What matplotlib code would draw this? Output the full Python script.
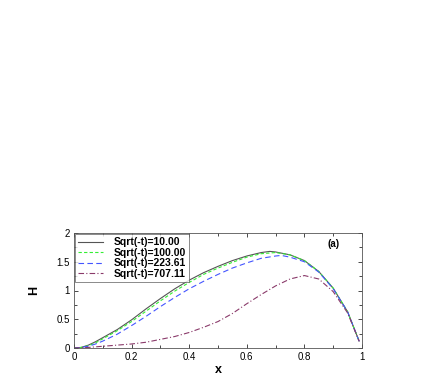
import matplotlib
matplotlib.use('Agg')
import matplotlib.pyplot as plt
from matplotlib.ticker import MultipleLocator

plt.rcParams['font.family'] = ['Liberation Sans', 'DejaVu Sans']

# values
x_a = [0, 0.025, 0.05, 0.075, 0.1, 0.15, 0.2, 0.25, 0.3, 0.35, 0.4, 0.45, 0.5, 0.55,
       0.6, 0.65, 0.68, 0.7, 0.75, 0.8, 0.85, 0.9, 0.95, 0.99]
h_10 = [0, 0.01, 0.05, 0.11, 0.18, 0.32, 0.49, 0.68, 0.86, 1.03, 1.18, 1.31, 1.42, 1.52,
        1.60, 1.66, 1.68, 1.67, 1.62, 1.52, 1.33, 1.04, 0.63, 0.12]

x_b = [0, 0.025, 0.05, 0.075, 0.1, 0.15, 0.2, 0.25, 0.3, 0.35, 0.4, 0.45, 0.5, 0.55, 0.6,
       0.65, 0.7, 0.75, 0.8, 0.85, 0.9, 0.95, 0.99]
h_100 = [0, 0.01, 0.04, 0.09, 0.16, 0.30, 0.46, 0.64, 0.82, 0.99, 1.14, 1.28, 1.39, 1.49, 1.58,
         1.64, 1.66, 1.62, 1.52, 1.33, 1.04, 0.63, 0.12]

x_c = [0, 0.025, 0.05, 0.075, 0.1, 0.15, 0.2, 0.25, 0.3, 0.35, 0.4, 0.45, 0.5, 0.55, 0.6,
       0.65, 0.7, 0.72, 0.75, 0.8, 0.85, 0.9, 0.95, 0.99]
h_223 = [0, 0.01, 0.03, 0.07, 0.12, 0.24, 0.39, 0.55, 0.72, 0.88, 1.03, 1.16, 1.28, 1.39, 1.48,
         1.56, 1.60, 1.61, 1.58, 1.50, 1.32, 1.03, 0.63, 0.12]

x_d = [0, 0.05, 0.1, 0.15, 0.2, 0.25, 0.3, 0.35, 0.4, 0.45, 0.5, 0.55, 0.6,
       0.65, 0.7, 0.75, 0.8, 0.85, 0.9, 0.95, 0.99]
h_707 = [0, 0.01, 0.03, 0.05, 0.07, 0.10, 0.15, 0.20, 0.27, 0.36, 0.46, 0.60, 0.77,
         0.93, 1.08, 1.20, 1.26, 1.20, 0.98, 0.61, 0.12]

labels = ['Sqrt(-t)=10.00', 'Sqrt(-t)=100.00', 'Sqrt(-t)=223.61', 'Sqrt(-t)=707.11']

fig = plt.figure(figsize=(4.36, 3.82), dpi=100)
ax = fig.add_axes([74 / 436, 1 - 348 / 382, 288 / 436, 115 / 382])

ax.plot(x_a, h_10, color='#555555', lw=0.8, ls='-', label=labels[0])
ax.plot(x_b, h_100, color='#33ee33', lw=0.8, ls=(0, (3, 2)), label=labels[1])
ax.plot(x_c, h_223, color='#4455ff', lw=0.8, ls=(0, (5, 3)), label=labels[2])
ax.plot(x_d, h_707, color='#8a3a6a', lw=0.8, ls=(0, (5, 2, 1, 2)), label=labels[3])

ax.set_xlim(0, 1)
ax.set_ylim(0, 2)
ax.set_xticks([0, 0.2, 0.4, 0.6, 0.8, 1.0])
ax.set_yticks([0, 0.5, 1, 1.5, 2])
ax.set_xticklabels(['0', '0.2', '0.4', '0.6', '0.8', '1'], fontsize=7)
ax.set_yticklabels(['0', '0.5', '1', '1.5', '2'], fontsize=7)
ax.xaxis.set_minor_locator(MultipleLocator(0.1))
ax.yaxis.set_minor_locator(MultipleLocator(0.25))
ax.tick_params(which='both', direction='in', top=True, right=True, width=0.5, pad=3)
ax.tick_params(which='major', length=3)
ax.tick_params(which='minor', length=2)
for s in ax.spines.values():
    s.set_linewidth(0.6)
    s.set_color('#555555')

ax.set_xlabel('x', fontsize=9, fontweight='bold', labelpad=1)
ax.set_ylabel('H', fontsize=9, fontweight='bold', labelpad=12)
ax.text(0.9, 0.9, '(a)', transform=ax.transAxes, fontsize=7, fontweight='bold',
        ha='center', va='center')

leg = ax.legend(loc='upper left', prop={'weight': 'bold', 'size': 7.5},
                frameon=True, fancybox=False, borderpad=0.3, labelspacing=0.05,
                handlelength=2.4, handletextpad=1.0, borderaxespad=0.1)
leg.get_frame().set_edgecolor('#555555')
leg.get_frame().set_linewidth(0.6)

fig.savefig('out.png', dpi=100)
